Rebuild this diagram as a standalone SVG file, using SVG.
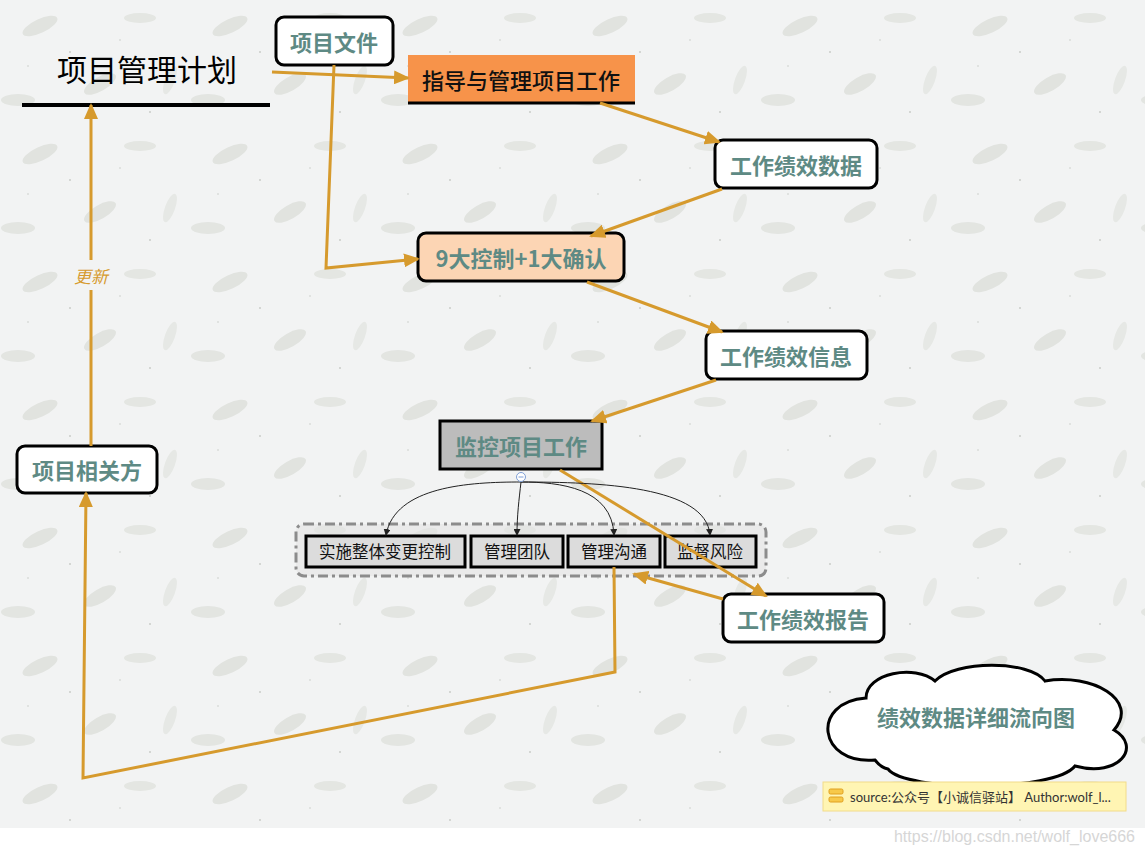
<svg xmlns="http://www.w3.org/2000/svg" width="1145" height="855" viewBox="0 0 1145 855">
<defs>
<style>
.bg{fill:#f2f3f3}
.node{fill:#ffffff;stroke:#000;stroke-width:3}
.t{font-family:"Noto Sans CJK SC","Noto Sans",sans-serif;text-anchor:middle;dominant-baseline:central}
.tb{font-weight:bold;font-size:22px;fill:#5e8a84}
.sub{fill:#dcdcdc;stroke:#000;stroke-width:3}
.st{font-size:16.5px;fill:#111}
.conn{fill:none;stroke:#d69a2d;stroke-width:3}
.thin{fill:none;stroke:#222;stroke-width:1}
</style>
<marker id="ah" markerUnits="userSpaceOnUse" markerWidth="16" markerHeight="14" refX="14" refY="7" orient="auto">
<path d="M0,0 L16,7 L0,14 Z" fill="#d69a2d"/>
</marker>
<marker id="sm" markerUnits="userSpaceOnUse" markerWidth="7" markerHeight="7" refX="6" refY="3.5" orient="auto">
<path d="M0,0 L7,3.5 L0,7 Z" fill="#222"/>
</marker>
<pattern id="leaves" width="190" height="128" patternUnits="userSpaceOnUse">
<ellipse cx="40" cy="26" rx="19" ry="7" transform="rotate(-25 40 26)" fill="#d3d6cf"/>
<ellipse cx="140" cy="18" rx="16" ry="5" fill="#d8dbd4"/>
<ellipse cx="100" cy="84" rx="18" ry="7" transform="rotate(-30 100 84)" fill="#d3d6cf"/>
<ellipse cx="170" cy="80" rx="5" ry="15" transform="rotate(20 170 80)" fill="#dcdfd9"/>
<ellipse cx="18" cy="100" rx="17" ry="6" fill="#d6d9d3"/>
<circle cx="70" cy="52" r="1" fill="#a9aca6"/>
<circle cx="150" cy="112" r="1" fill="#a9aca6"/>
<circle cx="28" cy="66" r="0.8" fill="#a9aca6"/>
<circle cx="120" cy="40" r="0.8" fill="#a9aca6"/>
</pattern>
</defs>

<rect x="0" y="0" width="1145" height="855" fill="#ffffff"/>
<rect class="bg" x="0" y="0" width="1145" height="828"/>
<rect x="0" y="0" width="1145" height="828" fill="url(#leaves)" opacity="0.55"/>

<g id="plan">
<text class="t" x="147" y="68" font-size="30" fill="#000">项目管理计划</text>
<line x1="22" y1="105" x2="270" y2="105" stroke="#000" stroke-width="4"/>
</g>

<g id="docs">
<rect class="node" x="276" y="17" width="117" height="48" rx="8"/>
<text class="t tb" x="334" y="41">项目文件</text>
</g>

<g id="direct">
<rect x="408" y="55" width="227" height="48" fill="#f7934a"/>
<line x1="408" y1="103" x2="635" y2="103" stroke="#000" stroke-width="3"/>
<text class="t" x="521" y="79" font-size="22" fill="#111" font-weight="500">指导与管理项目工作</text>
</g>

<g id="wpd">
<rect class="node" x="715" y="140" width="162" height="48" rx="8"/>
<text class="t tb" x="796" y="164">工作绩效数据</text>
</g>

<g id="control">
<rect x="418" y="233" width="206" height="48" rx="8" fill="#fcd5b4" stroke="#000" stroke-width="3"/>
<text class="t tb" x="521" y="257">9大控制+1大确认</text>
</g>

<g id="wpi">
<rect class="node" x="706" y="331" width="161" height="48" rx="8"/>
<text class="t tb" x="786" y="355">工作绩效信息</text>
</g>

<g id="monitor">
<rect x="440" y="421" width="162" height="48" fill="#bcbcbc" stroke="#000" stroke-width="3"/>
<text class="t tb" x="521" y="445">监控项目工作</text>
</g>

<g id="subgroup">
<rect x="296" y="524" width="470" height="52" rx="8" fill="#e4e4e4" fill-opacity="0.6" stroke="#8c8c8c" stroke-width="3" stroke-dasharray="10,4,3,4"/>
</g>
<g id="sub1">
<rect class="sub" x="306" y="536" width="159" height="31"/>
<text class="t st" x="385" y="551">实施整体变更控制</text>
</g>
<g id="sub2">
<rect class="sub" x="471" y="536" width="92" height="31"/>
<text class="t st" x="517" y="551">管理团队</text>
</g>
<g id="sub3">
<rect class="sub" x="568" y="536" width="92" height="31"/>
<text class="t st" x="614" y="551">管理沟通</text>
</g>
<g id="sub4">
<rect class="sub" x="665" y="536" width="91" height="31"/>
<text class="t st" x="710" y="551">监督风险</text>
</g>

<g id="wpr">
<rect class="node" x="723" y="594" width="161" height="48" rx="8"/>
<text class="t tb" x="803" y="618">工作绩效报告</text>
</g>

<g id="stake">
<rect class="node" x="17" y="446" width="140" height="47" rx="8"/>
<text class="t tb" x="87" y="469">项目相关方</text>
</g>

<g id="cloud">
<path d="M875,760 C818,765 810,702 866,698 C866,673 915,664 935,681 C955,660 1030,660 1045,681 C1092,673 1140,700 1114,730 C1142,746 1120,778 1075,766 C1055,792 905,792 888,769 C883,768 878,764 875,760 Z" fill="#fff" stroke="#000" stroke-width="3"/>
<text class="t tb" x="976" y="716">绩效数据详细流向图</text>
</g>

<g id="note">
<rect x="823" y="782" width="303" height="29" fill="#fff5b3" stroke="#f2dc8a" stroke-width="1"/>
<rect x="829" y="789" width="14" height="5" rx="1.5" fill="#f7c94a" stroke="#e0a020" stroke-width="1"/>
<rect x="829" y="797" width="14" height="5" rx="1.5" fill="#f7c94a" stroke="#e0a020" stroke-width="1"/>
<text x="850" y="797" font-family="Lato,'Noto Sans CJK SC',sans-serif" font-size="13" fill="#333" dominant-baseline="central">source:公众号【小诚信驿站】 Author:wolf_l...</text>
</g>

<g id="connectors">
<path class="conn" d="M272,72 L408,78" marker-end="url(#ah)"/>
<path class="conn" d="M334,65 L326,268 L418,259" marker-end="url(#ah)"/>
<path class="conn" d="M600,103 L719,142" marker-end="url(#ah)"/>
<path class="conn" d="M722,189 L591,236" marker-end="url(#ah)"/>
<path class="conn" d="M587,282 L722,332" marker-end="url(#ah)"/>
<path class="conn" d="M716,380 L592,421" marker-end="url(#ah)"/>
<path class="conn" d="M560,470 L766,596" marker-end="url(#ah)"/>
<path class="conn" d="M723,599 L634,574" marker-end="url(#ah)"/>
<path class="conn" d="M614,567 L615,672 L83,778 L86,493" marker-end="url(#ah)"/>
<path class="conn" d="M91,446 L91,290 M91,260 L91,105" marker-end="url(#ah)"/>
<text x="91" y="275" font-family="'Noto Sans CJK SC',sans-serif" font-size="17" font-style="italic" fill="#d69a2d" text-anchor="middle" dominant-baseline="central">更新</text>
<path class="thin" d="M521,482 C470,482 395,486 386,535" marker-end="url(#sm)"/>
<path class="thin" d="M521,482 C519,500 517,515 517,535" marker-end="url(#sm)"/>
<path class="thin" d="M521,482 C560,482 612,488 614,535" marker-end="url(#sm)"/>
<path class="thin" d="M521,482 C600,482 706,486 710,535" marker-end="url(#sm)"/>
<circle cx="521" cy="477" r="4.5" fill="#fff" stroke="#7f9fd6" stroke-width="1"/>
<line x1="518.5" y1="477" x2="523.5" y2="477" stroke="#7f9fd6" stroke-width="1"/>
</g>

<text x="1135" y="836" font-family="'Liberation Sans',Arial,sans-serif" font-size="16" fill="#d6d6d6" text-anchor="end" dominant-baseline="central">https://blog.csdn.net/wolf_love666</text>
</svg>
